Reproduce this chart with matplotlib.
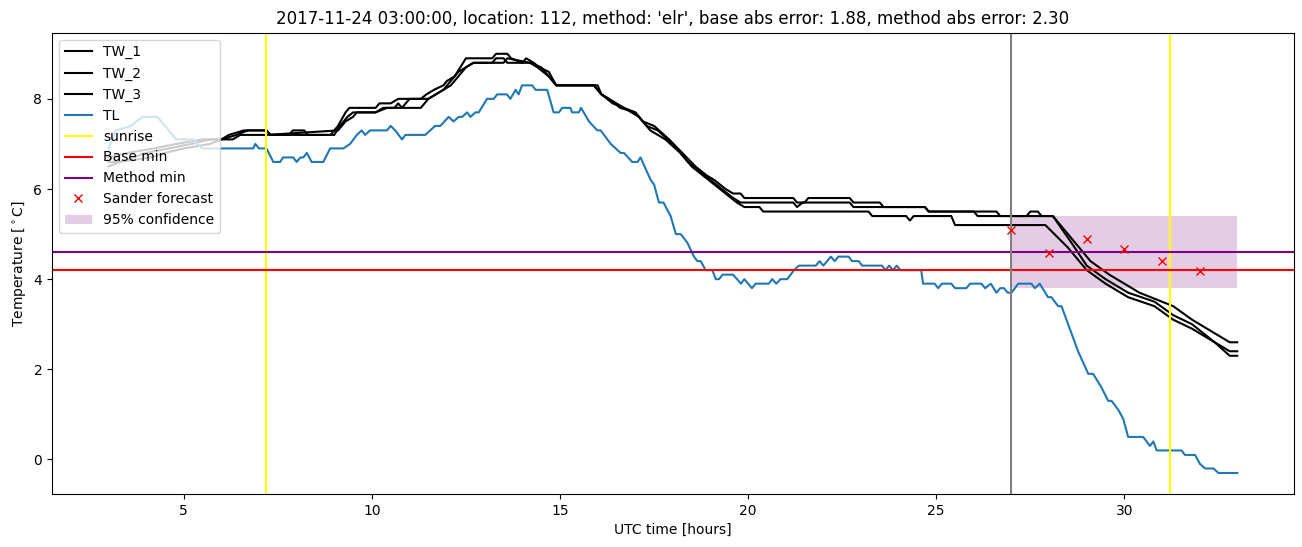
import matplotlib
matplotlib.use("Agg")
import matplotlib.pyplot as plt
import numpy as np

# water temperatures (three sensors), knots: (hour, degC)
tw1_t = [3.0, 3.5, 4.2, 4.8, 5.5, 6.0, 6.2, 6.6, 7.2, 7.3, 7.8, 7.9, 8.2, 8.3, 8.9, 9.1, 9.3, 9.4,
         10.1, 10.2, 10.5, 10.7, 11.3, 11.45, 11.65, 11.9, 12.0, 12.2, 12.35, 12.5, 13.2, 13.3,
         13.6, 13.7, 14.0, 14.1, 14.3, 14.45, 14.7, 14.9, 16.0, 16.1, 16.3, 16.5, 16.7, 17.0,
         17.2, 17.5, 17.9, 18.25, 18.6, 18.9, 19.1, 19.4, 19.6, 19.8, 19.9, 21.2, 21.3, 21.5,
         21.6, 22.7, 22.8, 23.5, 23.6, 24.7, 24.8, 26.0, 26.1, 27.4, 27.5, 27.7, 27.8, 28.1,
         28.7, 29.1, 29.6, 30.4, 31.3, 31.8, 32.4, 32.8, 33.0]
tw1_v = [6.7, 6.8, 6.9, 7.0, 7.1, 7.1, 7.2, 7.3, 7.3, 7.2, 7.2, 7.3, 7.3, 7.2, 7.2, 7.4, 7.7, 7.8,
         7.8, 7.9, 7.9, 8.0, 8.0, 8.1, 8.2, 8.3, 8.4, 8.5, 8.7, 8.9, 8.9, 9.0,
         9.0, 8.9, 8.8, 8.9, 8.8, 8.7, 8.6, 8.3, 8.3, 8.1, 8.0, 7.9, 7.8, 7.7,
         7.5, 7.4, 7.1, 6.8, 6.5, 6.3, 6.2, 6.0, 5.9, 5.9, 5.8, 5.8, 5.7, 5.7,
         5.8, 5.8, 5.7, 5.7, 5.6, 5.6, 5.5, 5.5, 5.4, 5.4, 5.5, 5.5, 5.4, 5.4,
         4.8, 4.4, 4.1, 3.7, 3.4, 3.1, 2.8, 2.6, 2.6]

tw2_t = [3.0, 3.3, 4.0, 4.6, 5.2, 5.7, 6.0, 6.4, 6.7, 7.2, 7.3, 9.0, 9.15, 9.35, 9.5, 10.1, 10.3,
         10.6, 10.7, 10.8, 11.0, 11.5, 11.7, 11.9, 12.1, 12.3, 12.5, 12.7, 13.2, 13.3, 13.5,
         13.6, 14.2, 14.5, 14.7, 14.9, 15.9, 16.1, 16.3, 16.6, 17.0, 17.3, 17.6, 18.0, 18.4,
         18.7, 19.0, 19.3, 19.6, 19.8, 21.2, 21.3, 21.45, 22.7, 22.8, 24.7, 24.8, 26.6, 26.7,
         28.1, 28.6, 29.0, 29.5, 30.1, 30.8, 31.3, 31.8, 32.4, 32.8, 33.0]
tw2_v = [6.6, 6.6, 6.8, 6.9, 7.0, 7.1, 7.1, 7.2, 7.3, 7.3, 7.2, 7.2, 7.4, 7.6, 7.7, 7.7, 7.8,
         7.8, 7.9, 7.8, 8.0, 8.0, 8.1, 8.2, 8.4, 8.6, 8.7, 8.8, 8.8, 8.9, 8.9,
         8.8, 8.8, 8.7, 8.5, 8.3, 8.3, 8.1, 8.0, 7.8, 7.7, 7.4, 7.3, 7.0, 6.6,
         6.4, 6.2, 6.0, 5.8, 5.7, 5.7, 5.6, 5.7, 5.7, 5.6, 5.6, 5.5, 5.5, 5.4,
         5.4, 4.8, 4.3, 4.0, 3.7, 3.5, 3.2, 3.0, 2.6, 2.4, 2.4]

tw3_t = [3.0, 3.3, 4.1, 4.5, 5.0, 5.7, 6.0, 6.3, 6.5, 7.2, 9.1, 9.3, 9.5, 9.6, 10.1, 10.4, 11.3,
         11.5, 11.7, 11.9, 12.1, 12.3, 12.5, 12.7, 13.5, 13.6, 14.2, 14.4, 14.7, 14.9, 15.9,
         16.1, 16.4, 16.7, 17.1, 17.4, 17.8, 18.2, 18.5, 18.8, 19.1, 19.4, 19.7, 19.9, 20.3,
         20.4, 23.2, 23.3, 24.2, 24.3, 24.4, 25.4, 25.5, 27.9, 28.5, 29.0, 29.5, 30.1, 30.8,
         31.3, 31.8, 32.4, 32.8, 33.0]
tw3_v = [6.5, 6.6, 6.7, 6.8, 6.9, 7.0, 7.1, 7.1, 7.2, 7.2, 7.3, 7.5, 7.6, 7.7, 7.7, 7.8, 7.8,
         8.0, 8.1, 8.2, 8.3, 8.5, 8.7, 8.8, 8.8, 8.9, 8.8, 8.7, 8.5, 8.3, 8.3,
         8.1, 7.9, 7.8, 7.6, 7.3, 7.1, 6.8, 6.5, 6.3, 6.1, 5.9, 5.7, 5.6, 5.6,
         5.5, 5.5, 5.4, 5.4, 5.3, 5.4, 5.4, 5.2, 5.2, 4.7, 4.2, 3.9, 3.6, 3.4,
         3.1, 2.9, 2.6, 2.3, 2.3]

# air temperature
tl_t = [3.0, 3.2, 3.6, 3.9, 4.3, 4.5, 4.7, 4.8, 5.25, 5.35, 5.5, 6.85, 6.9, 7.0, 7.2, 7.38, 7.56,
        7.64, 7.91, 8.0, 8.1, 8.18, 8.27, 8.4, 8.71, 8.89, 9.24, 9.42, 9.6, 9.73, 9.82, 9.95,
        10.4, 10.5, 10.62, 10.8, 10.89, 11.42, 11.55, 11.68, 11.82, 12.04, 12.17, 12.31, 12.4,
        12.53, 12.62, 12.75, 12.84, 13.06, 13.24, 13.33, 13.59, 13.68, 13.82, 13.9, 13.99,
        14.26, 14.35, 14.66, 14.83, 14.97, 15.06, 15.28, 15.32, 15.5, 15.56, 15.77, 15.99,
        16.08, 16.35, 16.61, 16.7, 16.92, 17.06, 17.14, 17.41, 17.5, 17.63, 17.75, 17.94,
        18.08, 18.21, 18.39, 18.56, 18.65, 18.74, 18.87, 19.05, 19.14, 19.23, 19.32, 19.6,
        19.81, 19.9, 20.1, 20.2, 20.55, 20.64, 20.75, 20.86, 21.04, 21.22, 21.35, 21.8, 21.9,
        22.0, 22.2, 22.3, 22.4, 22.67, 22.76, 22.94, 23.03, 23.56, 23.65, 23.75, 23.85, 23.95,
        24.05, 24.6, 24.65, 24.96, 25.05, 25.15, 25.4, 25.5, 25.8, 25.9, 26.2, 26.3, 26.45,
        26.6, 26.7, 26.8, 26.9, 27.0, 27.18, 27.53, 27.62, 27.75, 27.97, 28.06, 28.24, 28.33,
        28.55, 28.77, 29.04, 29.17, 29.39, 29.57, 29.66, 29.84, 29.97, 30.1, 30.5, 30.68,
        30.77, 30.86, 31.52, 31.61, 31.88, 32.01, 32.15, 32.37, 32.5, 33.0]
tl_v = [6.9, 7.3, 7.4, 7.6, 7.6, 7.4, 7.2, 7.1, 7.1, 7.0, 6.9, 6.9, 7.0, 6.9, 6.9, 6.6, 6.6,
        6.7, 6.7, 6.6, 6.7, 6.7, 6.8, 6.6, 6.6, 6.9, 6.9, 7.0, 7.2, 7.3, 7.2, 7.3,
        7.3, 7.4, 7.3, 7.1, 7.2, 7.2, 7.3, 7.4, 7.4, 7.6, 7.5, 7.6, 7.6,
        7.7, 7.6, 7.7, 7.7, 8.0, 8.0, 8.1, 8.1, 8.0, 8.2, 8.1, 8.3,
        8.3, 8.2, 8.2, 7.7, 7.7, 7.8, 7.8, 7.7, 7.7, 7.8, 7.5, 7.3,
        7.3, 7.0, 6.8, 6.8, 6.6, 6.6, 6.7, 6.2, 6.1, 5.7, 5.7, 5.4,
        5.0, 5.0, 4.8, 4.5, 4.4, 4.4, 4.2, 4.2, 4.0, 4.0, 4.1, 4.1,
        3.9, 4.0, 3.8, 3.9, 3.9, 4.0, 3.9, 4.0, 4.0, 4.2, 4.3, 4.3, 4.4,
        4.3, 4.5, 4.4, 4.5, 4.5, 4.4, 4.4, 4.3, 4.3, 4.2, 4.3, 4.2, 4.3,
        4.2, 4.2, 3.9, 3.9, 3.8, 3.9, 3.9, 3.8, 3.8, 3.9, 3.9, 3.8, 3.9,
        3.7, 3.8, 3.8, 3.7, 3.7, 3.9, 3.9, 3.8, 3.9, 3.6, 3.6, 3.4, 3.4,
        2.9, 2.4, 1.9, 1.9, 1.6, 1.3, 1.3, 1.1, 0.9, 0.5, 0.5, 0.3,
        0.4, 0.2, 0.2, 0.1, 0.1, -0.1, -0.2, -0.2, -0.3, -0.3]

sunrise = [7.18, 31.2]
forecast_time = 27.0
base_min = 4.2
method_min = 4.6
sander_t = [27, 28, 29, 30, 31, 32]
sander_v = [5.1, 4.57, 4.9, 4.68, 4.41, 4.19]
conf_t = [27, 33]
conf_lo = 3.8
conf_hi = 5.4

fig, ax = plt.subplots(figsize=(13.02, 5.47), dpi=100)
fig.subplots_adjust(left=0.040, right=0.9936, bottom=0.097, top=0.94)

ax.plot(tw1_t, tw1_v, color='k', label='TW_1')
ax.plot(tw2_t, tw2_v, color='k', label='TW_2')
ax.plot(tw3_t, tw3_v, color='k', label='TW_3')
ax.plot(tl_t, tl_v, color='C0', label='TL')
ax.axvline(sunrise[0], color='yellow', label='sunrise')
ax.axvline(sunrise[1], color='yellow')
ax.axhline(base_min, color='red', label='Base min')
ax.axhline(method_min, color='purple', label='Method min')
ax.axvline(forecast_time, color='gray')
ax.plot(sander_t, sander_v, 'rx', label='Sander forecast')
ax.fill_between(conf_t, conf_lo, conf_hi, color='purple', alpha=0.2, linewidth=0,
                label='95% confidence')

ax.set_title("2017-11-24 03:00:00, location: 112, method: 'elr', base abs error: 1.88, "
             "method abs error: 2.30")
ax.set_xlabel('UTC time [hours]')
ax.set_ylabel(r'Temperature [$^\circ$C]')
ax.legend(loc='upper left')

fig.savefig('out.png', dpi=100)
